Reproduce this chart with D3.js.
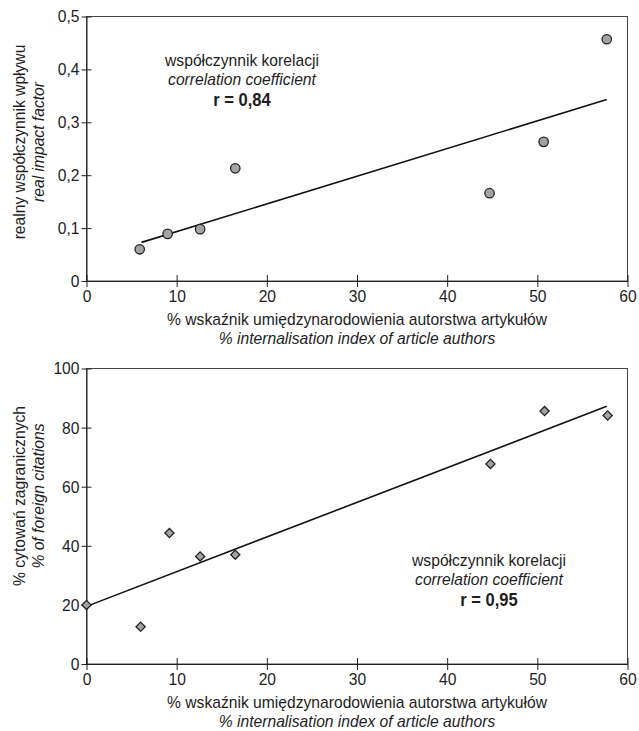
<!DOCTYPE html>
<html>
<meta charset="utf-8">
<style>
    body { margin: 0; background: #fff; }
    svg { display: block; }
    text { font-family: "Liberation Sans", Arial, sans-serif; fill: #1e1e1e; }
</style>
<body>
<svg width="639" height="731"></svg>
<script src="https://d3js.org/d3.v7.min.js"></script>
<script>

    // top panel: internalisation index vs real impact factor
    let topX = [5.9, 9.0, 12.6, 16.5, 44.7, 50.7, 57.7];
    let topY = [0.060, 0.089, 0.098, 0.213, 0.166, 0.263, 0.457];
    let topTrendX = [6.1, 57.7];
    let topTrendY = [0.073, 0.343];
    let topYTicks = [0, 0.1, 0.2, 0.3, 0.4, 0.5];

    // bottom panel: internalisation index vs % foreign citations
    let botX = [0, 6.0, 9.2, 12.6, 16.5, 44.8, 50.8, 57.8];
    let botY = [20, 12.6, 44.3, 36.4, 37, 67.7, 85.6, 84.1];
    let botTrendX = [0, 57.7];
    let botTrendY = [19.5, 87.2];
    let botYTicks = [0, 20, 40, 60, 80, 100];

    let xTicks = [0, 10, 20, 30, 40, 50, 60];

    let svg = d3.select("svg");
    let left = 86.5, right = 627.5;
    let fs = 17;        // font size
    let squeeze = 0.92; // condensed look

    function panel(opt) {
        let x = d3.scaleLinear().domain([0, 60]).range([left, right]);
        let y = d3.scaleLinear().domain([0, opt.yMax]).range([opt.bottom, opt.top]);
        let g = svg.append("g");

        // frame
        g.append("rect")
            .attr("x", left).attr("y", opt.top)
            .attr("width", right - left).attr("height", opt.bottom - opt.top)
            .attr("fill", "none").attr("stroke", "#444").attr("stroke-width", 1);

        let xAxis = g.append("g")
            .attr("transform", "translate(0," + opt.bottom + ")")
            .call(d3.axisBottom(x).tickValues(xTicks).tickSizeInner(6).tickSizeOuter(0).tickPadding(3));
        xAxis.selectAll(".tick line").attr("y1", -6);

        let yAxis = g.append("g")
            .attr("transform", "translate(" + left + ",0)")
            .call(d3.axisLeft(y).tickValues(opt.yTicks).tickSizeInner(5).tickSizeOuter(0).tickPadding(2)
                .tickFormat(function (d) { return String(d).replace(".", ","); }));
        yAxis.selectAll(".tick line").attr("x1", 5);

        g.selectAll(".domain").attr("stroke", "#222");
        g.selectAll(".tick line").attr("stroke", "#222");
        g.selectAll(".tick text")
            .attr("font-family", "Liberation Sans")
            .attr("font-size", fs).attr("fill", "#1e1e1e");

        // trend line
        g.append("line")
            .attr("x1", x(opt.trendX[0])).attr("y1", y(opt.trendY[0]))
            .attr("x2", x(opt.trendX[1])).attr("y2", y(opt.trendY[1]))
            .attr("stroke", "#111").attr("stroke-width", 1.6);

        // points
        let pts = opt.xs.map(function (d, i) { return [d, opt.ys[i]]; });
        g.selectAll(".pt")
            .data(pts)
            .enter().append("path")
            .attr("transform", function (d) { return "translate(" + x(d[0]) + "," + y(d[1]) + ")" + opt.rot; })
            .attr("d", d3.symbol().type(opt.symbol).size(opt.size))
            .attr("fill", "#a3a3a3")
            .attr("stroke", "#222")
            .attr("stroke-width", 1.3);

        // x title
        let xc = (left + right) / 2;
        g.append("text").attr("x", xc).attr("y", opt.bottom + 44)
            .attr("text-anchor", "middle").attr("font-size", fs)
            .text("% wskaźnik umiędzynarodowienia autorstwa artykułów");
        g.append("text").attr("x", xc).attr("y", opt.bottom + 62.5)
            .attr("text-anchor", "middle").attr("font-size", fs)
            .attr("font-style", "italic")
            .text("% internalisation index of article authors");

        // y title
        g.append("text")
            .attr("transform", "translate(25," + opt.yMid + ") rotate(-90)")
            .attr("text-anchor", "middle").attr("font-size", fs)
            .text(opt.yTitle);
        g.append("text")
            .attr("transform", "translate(44," + opt.yMid + ") rotate(-90)")
            .attr("text-anchor", "middle").attr("font-size", fs)
            .attr("font-style", "italic")
            .text(opt.yTitleEn);

        // correlation note
        let note = g.append("g").attr("text-anchor", "middle").attr("font-size", fs);
        note.append("text").attr("x", opt.noteX).attr("y", opt.noteY).text("współczynnik korelacji");
        note.append("text").attr("x", opt.noteX).attr("y", opt.noteY + 18.5)
            .attr("font-style", "italic").text("correlation coefficient");
        note.append("text").attr("x", opt.noteX).attr("y", opt.noteY + 40)
            .attr("font-weight", "bold").attr("font-size", fs + 1).text(opt.r);
    }

    panel({
        top: 16.5, bottom: 281, yMax: 0.5, yTicks: topYTicks,
        xs: topX, ys: topY, trendX: topTrendX, trendY: topTrendY,
        symbol: d3.symbolCircle, size: 70, rot: "",
        yTitle: "realny współczynnik wpływu", yTitleEn: "real impact factor", yMid: 142,
        noteX: 242, noteY: 66, r: "r = 0,84"
    });

    panel({
        top: 368.5, bottom: 664, yMax: 100, yTicks: botYTicks,
        xs: botX, ys: botY, trendX: botTrendX, trendY: botTrendY,
        symbol: d3.symbolSquare, size: 42, rot: " rotate(45)",
        yTitle: "% cytowań zagranicznych", yTitleEn: "% of foreign citations", yMid: 496,
        noteX: 489, noteY: 566, r: "r = 0,95"
    });

    // narrow every label horizontally, like the condensed face of the original
    svg.selectAll("text").each(function () {
        let w = this.getComputedTextLength();
        d3.select(this).attr("textLength", w * squeeze).attr("lengthAdjust", "spacingAndGlyphs");
    });

</script>
</body>
</html>
